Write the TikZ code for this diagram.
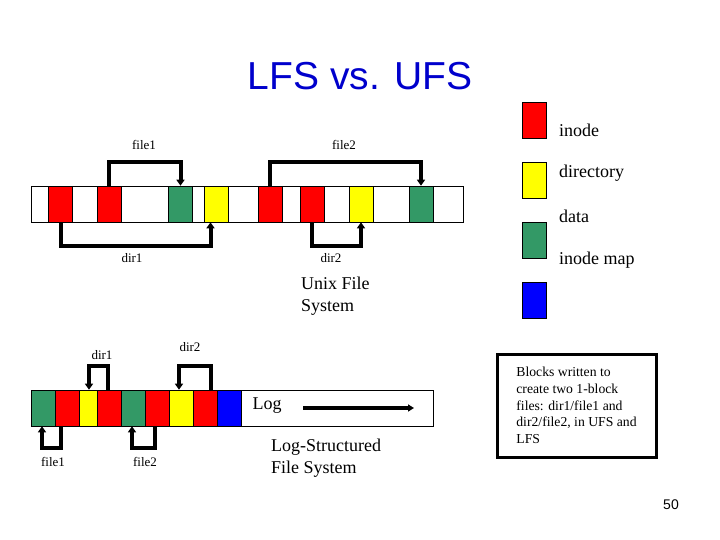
\documentclass[tikz,border=0pt]{standalone}
\usepackage{fontspec}
\setmainfont{Liberation Serif}
\setsansfont{Liberation Sans}
\usetikzlibrary{positioning,arrows.meta}
\definecolor{inodecol}{HTML}{FF0000}
\definecolor{dircol}{HTML}{FFFF00}
\definecolor{datacol}{HTML}{339966}
\definecolor{imapcol}{HTML}{0000FF}
\definecolor{titlecol}{HTML}{0000CC}
\tikzset{blk/.style={rectangle, draw=black, line width=0.6pt, minimum width=24pt, minimum height=36pt, inner sep=0pt}}
\tikzset{inodeblk/.style={blk, fill=inodecol}}
\tikzset{dirblk/.style={blk, fill=dircol}}
\tikzset{datablk/.style={blk, fill=datacol}}
\tikzset{imapblk/.style={blk, fill=imapcol}}
\tikzset{diskbar/.style={rectangle, draw=black, line width=0.6pt, fill=white, minimum height=36pt, inner sep=0pt}}
\tikzset{link/.style={-{Triangle[length=6pt,width=8pt]}, line width=4pt}}
\tikzset{lbl/.style={font=\fontsize{13}{15}\selectfont, inner sep=1pt}}
\tikzset{bigtxt/.style={font=\fontsize{18}{22}\selectfont, align=left, inner sep=0pt}}

\begin{document}
\begin{tikzpicture}[x=1pt,y=-1pt]
  \useasboundingbox (0,0) rectangle (720,540);

  \node[font=\sffamily\fontsize{39}{46}\selectfont, text=titlecol] (title) at (360,76) {LFS vs. UFS};

  % Unix file system
  \node[diskbar, minimum width=432pt] (ufs) at (247,204) {};
  \node[inodeblk] (u1) at (60.5,204) {};
  \node[inodeblk] (u2) at (109,204) {};
  \node[datablk] (ug1) at (180.5,204) {};
  \node[dirblk] (uy1) at (216.5,204) {};
  \node[inodeblk] (u3) at (270,204) {};
  \node[inodeblk] (u4) at (312,204) {};
  \node[dirblk] (uy2) at (361,204) {};
  \node[datablk] (ug2) at (421,204) {};

  \draw[link] (u2.north) -- ++(0,-24) -| (ug1.north);
  \draw[link] (u3.north) -- ++(0,-24) -| (ug2.north);
  \draw[link] (u1.south) -- ++(0,24) -| ([xshift=-6pt]uy1.south);
  \draw[link] (u4.south) -- ++(0,24) -| (uy2.south);

  \node[lbl] (ufile1) at (144,145) {file1};
  \node[lbl] (ufile2) at (344,145) {file2};
  \node[lbl] (udir1) at (132,258) {dir1};
  \node[lbl] (udir2) at (331,258) {dir2};

  \node[bigtxt, anchor=west] (unixtxt) at (301,296) {Unix File\\System};

  % log-structured file system
  \node[diskbar, minimum width=402pt] (lfs) at (232,408) {};
  \node[datablk] (l1) at (43,408) {};
  \node[inodeblk] (l2) at (67,408) {};
  \node[dirblk, minimum width=18pt] (l3) at (88,408) {};
  \node[inodeblk] (l4) at (109,408) {};
  \node[datablk] (l5) at (133,408) {};
  \node[inodeblk] (l6) at (157,408) {};
  \node[dirblk] (l7) at (181,408) {};
  \node[inodeblk] (l8) at (205,408) {};
  \node[imapblk] (l9) at (229,408) {};

  \draw[link] ([xshift=-1pt]l4.north) -- ++(0,-24) -| ([xshift=1pt]l3.north);
  \draw[link] ([xshift=6pt]l8.north) -- ++(0,-24) -| ([xshift=-2pt]l7.north);
  \draw[link] ([xshift=-6pt]l2.south) -- ++(0,22) -| ([xshift=-1pt]l1.south);
  \draw[link] ([xshift=-2pt]l6.south) -- ++(0,22) -| ([xshift=-1pt]l5.south);

  \node[lbl] (ldir1) at (102,355) {dir1};
  \node[lbl] (ldir2) at (190,347) {dir2};
  \node[lbl] (lfile1) at (53,462) {file1};
  \node[lbl] (lfile2) at (145,462) {file2};

  \node[bigtxt] (logtxt) at (267,406) {Log};
  \coordinate (logstart) at (303,408);
  \coordinate (logend) at (414,408);
  \draw[-{Triangle[length=6pt,width=7pt]}, line width=3.5pt] (logstart) -- (logend);

  \node[bigtxt, anchor=west] (lfstxt) at (271,458) {Log-Structured\\File System};

  % legend
  \node[inodeblk] (kinode) at (534,120) {};
  \node[dirblk] (kdir) at (534,180) {};
  \node[datablk] (kdata) at (534,240) {};
  \node[imapblk] (kimap) at (534,300) {};
  \node[bigtxt, anchor=west] at (559,130) {inode};
  \node[bigtxt, anchor=west] at (559,173) {directory};
  \node[bigtxt, anchor=west] at (559,216) {data};
  \node[bigtxt, anchor=west] at (559,260) {inode map};

  % note
  \node[draw=black, line width=3pt, minimum width=159pt, minimum height=103pt, align=left, inner sep=0pt, font=\fontsize{13.7}{16.7}\selectfont] (note) at (576.5,405.5)
    {Blocks written to\\create two 1-block\\files: dir1/file1 and\\dir2/file2, in UFS and\\LFS};

  \node[font=\sffamily\fontsize{14}{16}\selectfont] (pagenum) at (671,505) {50};
\end{tikzpicture}
\end{document}
